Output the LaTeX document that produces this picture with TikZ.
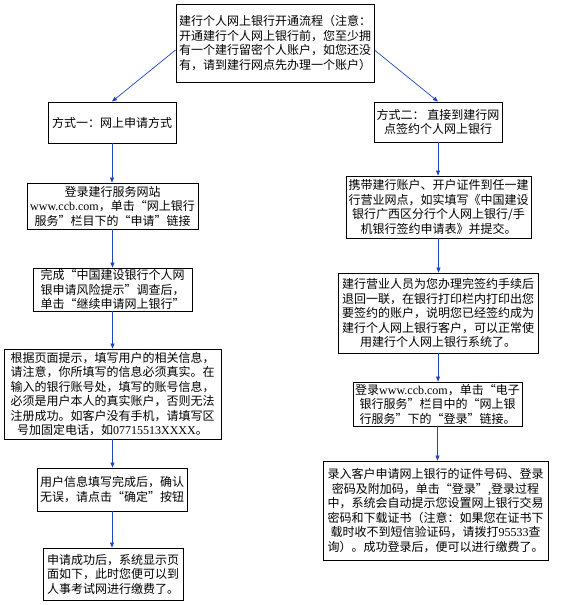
\documentclass[tikz,border=0pt]{standalone}
\usepackage{fontspec}
\setmainfont{Noto Sans CJK SC}
\newfontfamily\lat{Liberation Serif}
\newcommand\zqo{\makebox[12pt][r]{“}}
\newcommand\zqc{\makebox[12pt][l]{”}}
\usetikzlibrary{arrows.meta,shadows}
\definecolor{arrblue}{RGB}{30,70,190}
\tikzset{
  box/.style={draw=black, line width=0.9pt, fill=white, inner sep=0pt, align=center,
    font=\fontsize{12pt}{14.5pt}\selectfont,
    drop shadow={shadow xshift=1.3pt, shadow yshift=-1.3pt, fill=black!75, opacity=1}},
  arr/.style={draw=arrblue, line width=0.7pt, -{Triangle[length=5pt,width=4pt]}}
}
\begin{document}
\begin{tikzpicture}[x=1pt,y=-1pt]
\useasboundingbox (0,0) rectangle (560,605);
\node[box, minimum width=198pt, minimum height=78pt] (top) at (275,43)
  {建行个人网上银行开通流程（注意：\\开通建行个人网上银行前，您至少拥\\有一个建行留密个人账户，如您还没\\有，请到建行网点先办理一个账户）};
\node[box, minimum width=128pt, minimum height=41pt] (L0) at (112,122.5)
  {方式一：网上申请方式};
\node[box, minimum width=128pt, minimum height=40pt] (R0) at (438,122)
  {方式二： 直接到建行网\\点签约个人网上银行};
\node[box, minimum width=171pt, minimum height=46pt] (L1) at (112.5,206)
  {登录建行服务网站\\{\lat www.ccb.com}，单击\zqo 网上银行\\服务\zqc 栏目下的\zqo 申请\zqc 链接};
\node[box, align=left, minimum width=159pt, minimum height=43pt] (L2) at (112.5,289.5)
  {完成\zqo 中国建设银行个人网\\银申请风险提示\zqc 调查后，\\单击\zqo 继续申请网上银行\zqc};
\node[box, minimum width=217pt, minimum height=90pt] (L3) at (112.5,394)
  {根据页面提示，填写用户的相关信息，\\请注意，你所填写的信息必须真实。在\\输入的银行账号处，填写的账号信息，\\必须是用户本人的真实账户，否则无法\\注册成功。如客户没有手机，请填写区\\号加固定电话，如{\lat 07715513XXXX}。};
\node[box, minimum width=150pt, minimum height=43pt] (L4) at (112,489.5)
  {用户信息填写完成后，确认\\无误，请点击\zqo 确定\zqc 按钮};
\node[box, minimum width=140pt, minimum height=52pt] (L5) at (113,574)
  {申请成功后，系统显示页\\面如下，此时您便可以到\\人事考试网进行缴费了。};
\node[box, minimum width=185pt, minimum height=62pt] (R1) at (438.5,207)
  {携带建行账户、开户证件到任一建\\行营业网点，如实填写《中国建设\\银行广西区分行个人网上银行/手\\机银行签约申请表》并提交。};
\node[box, minimum width=200pt, minimum height=80pt] (R2) at (438,313)
  {建行营业人员为您办理完签约手续后\\退回一联，在银行打印栏内打印出您\\要签约的账户，说明您已经签约成为\\建行个人网上银行客户，可以正常使\\用建行个人网上银行系统了。};
\node[box, minimum width=169pt, minimum height=44pt] (R3) at (437.5,404)
  {登录{\lat www.ccb.com}，单击\zqo 电子\\银行服务\zqc 栏目中的\zqo 网上银\\行服务\zqc 下的\zqo 登录\zqc 链接。};
\node[box, minimum width=225pt, minimum height=99pt] (R4) at (435.5,510.5)
  {录入客户申请网上银行的证件号码、登录\\密码及附加码，单击\zqo 登录\zqc ,登录过程\\中，系统会自动提示您设置网上银行交易\\密码和下载证书（注意：如果您在证书下\\载时收不到短信验证码，请拨打{\lat 95533}查\\询）。成功登录后，便可以进行缴费了。};
\draw[arr] ([yshift=-7pt]top.west) -- (L0.north);
\draw[arr] ([yshift=-7pt]top.east) -- (R0.north);
\draw[arr] (L0.south) -- (L0.south |- L1.north);
\draw[arr] (L1.south) -- (L1.south |- L2.north);
\draw[arr] (L2.south) -- (L2.south |- L3.north);
\draw[arr] (L3.south) -- (L3.south |- L4.north);
\draw[arr] (L4.south) -- (L4.south |- L5.north);
\draw[arr] (R0.south) -- (R0.south |- R1.north);
\draw[arr] (R1.south) -- (R1.south |- R2.north);
\draw[arr] (R2.south) -- (R2.south |- R3.north);
\draw[arr] (R3.south) -- (R3.south |- R4.north);
\end{tikzpicture}
\end{document}
